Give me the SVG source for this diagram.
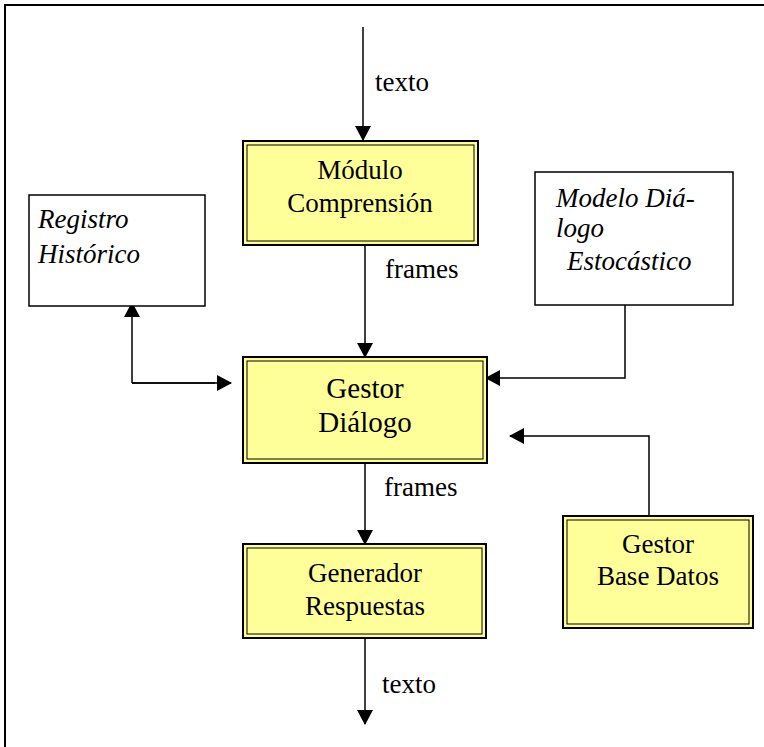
<svg xmlns="http://www.w3.org/2000/svg" width="764" height="747" viewBox="0 0 764 747">
<defs>
<marker id="ah" markerWidth="16" markerHeight="16" refX="14" refY="8" orient="auto" markerUnits="userSpaceOnUse">
<path d="M0,0 L15,8 L0,16 Z" fill="#000"/>
</marker>
<style>
.t{font-family:"Liberation Serif","Times New Roman",serif;font-size:27px;fill:#000}
.i{font-style:italic}
.m{text-anchor:middle}
.outer{fill:#FFFF99;stroke:#000;stroke-width:2}
.inner{fill:none;stroke:#000;stroke-width:1}
.plain{fill:#fff;stroke:#000;stroke-width:1.5}
.c{fill:none;stroke:#000;stroke-width:1.5}
</style>
</defs>
<rect x="0" y="0" width="764" height="747" fill="#fff"/>
<rect x="5" y="5" width="900" height="900" fill="none" stroke="#000" stroke-width="2"/>

<g id="connectors">
<line class="c" x1="363" y1="27" x2="363" y2="140" marker-end="url(#ah)"/>
<line class="c" x1="365" y1="246" x2="365" y2="357" marker-end="url(#ah)"/>
<line class="c" x1="365" y1="464" x2="365" y2="544" marker-end="url(#ah)"/>
<line class="c" x1="365" y1="639" x2="365" y2="724" marker-end="url(#ah)"/>
<polyline class="c" points="132,383 215,383" />
<line class="c" x1="132" y1="383" x2="132" y2="303" marker-end="url(#ah)"/>
<line class="c" x1="132" y1="383" x2="231" y2="383" marker-end="url(#ah)"/>
<polyline class="c" points="625,305 625,378 486,378" marker-end="url(#ah)"/>
<polyline class="c" points="649,516 649,436 510,436" marker-end="url(#ah)"/>
<text class="t" x="375" y="91">texto</text>
<text class="t" x="385" y="278">frames</text>
<text class="t" x="384" y="496">frames</text>
<text class="t" x="382" y="693">texto</text>
</g>

<g id="modulo">
<rect class="outer" x="243" y="141" width="235" height="104"/>
<rect class="inner" x="247" y="145" width="227" height="96"/>
<text class="t m" x="360" y="179">Módulo</text>
<text class="t m" x="360" y="212">Comprensión</text>
</g>

<g id="registro">
<rect class="plain" x="29" y="195" width="176" height="111"/>
<text class="t i" x="38" y="228">Registro</text>
<text class="t i" x="38" y="263">Histórico</text>
</g>

<g id="modelo">
<rect class="plain" x="535" y="172" width="198" height="133"/>
<text class="t i" x="556" y="207">Modelo Diá-</text>
<text class="t i" x="556" y="237">logo</text>
<text class="t i" x="567" y="270">Estocástico</text>
</g>

<g id="gestor">
<rect class="outer" x="243" y="357" width="244" height="106"/>
<rect class="inner" x="247" y="361" width="236" height="98"/>
<text class="t m" x="365" y="398" style="font-size:29px">Gestor</text>
<text class="t m" x="365" y="432" style="font-size:29px">Diálogo</text>
</g>

<g id="generador">
<rect class="outer" x="243" y="544" width="243" height="94"/>
<rect class="inner" x="247" y="548" width="235" height="86"/>
<text class="t m" x="365" y="582">Generador</text>
<text class="t m" x="365" y="615">Respuestas</text>
</g>

<g id="basedatos">
<rect class="outer" x="563" y="516" width="190" height="112"/>
<rect class="inner" x="567" y="520" width="182" height="104"/>
<text class="t m" x="658" y="553">Gestor</text>
<text class="t m" x="658" y="585">Base Datos</text>
</g>
</svg>
